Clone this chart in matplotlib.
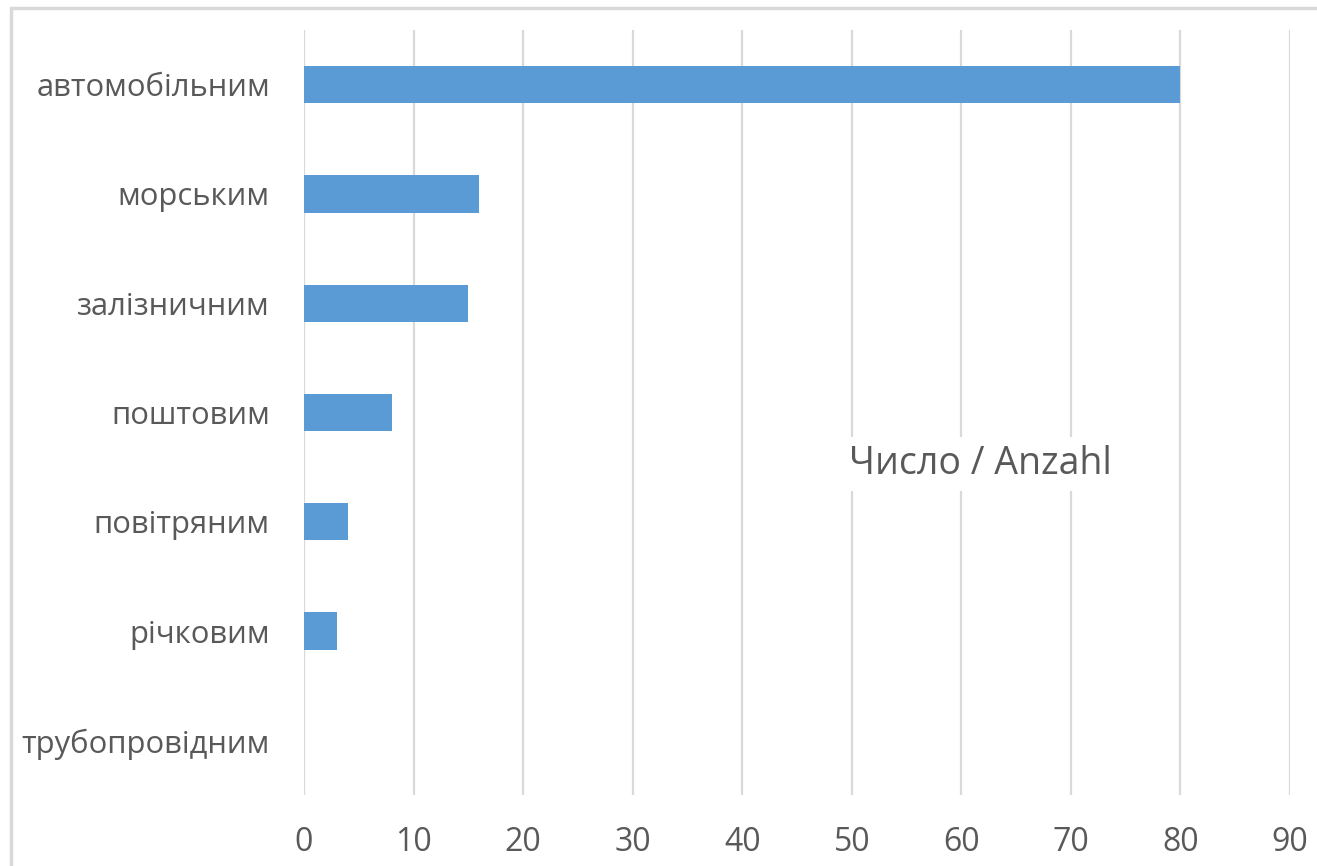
import matplotlib
matplotlib.use("Agg")
import matplotlib.pyplot as plt
from matplotlib.patches import Rectangle

categories = ["автомобільним", "морським", "залізничним", "поштовим",
              "повітряним", "річковим", "трубопровідним"]
values = [80, 16, 15, 8, 4, 3, 0]
xticks = [0, 10, 20, 30, 40, 50, 60, 70, 80, 90]
series_label = "Число / Anzahl"

plt.rcParams['font.family'] = ['Open Sans', 'DejaVu Sans']

fig = plt.figure(figsize=(13.17, 8.66), dpi=100)
ax = fig.add_axes([304/1317, 1 - 795/866, (1290 - 304)/1317, (795 - 30)/866])

pos = list(range(len(categories)))
ax.barh(pos, values, height=0.34, color="#5B9BD5", zorder=3)
ax.set_ylim(len(categories) - 0.5, -0.5)
ax.set_xlim(0, 90)
ax.set_yticks(pos)
ax.set_yticklabels(categories, fontsize=22.3, color="#595959")
ax.set_xticks(xticks)
ax.set_xticklabels([str(t) for t in xticks], fontsize=23, color="#595959")
ax.tick_params(axis="both", length=0)
ax.tick_params(axis="y", pad=24.5)
ax.tick_params(axis="x", pad=22)
ax.grid(axis="x", color="#d9d9d9", linewidth=1.6, zorder=0)
for s in ax.spines.values():
    s.set_visible(False)

ax.text(61.7, 3.47, series_label, fontsize=27, color="#595959",
        ha="center", va="center", zorder=5,
        bbox=dict(facecolor="white", edgecolor="none", pad=6))

fig.patches.append(Rectangle((11/1317, -0.2), 1.2, 1 - 8/866 + 0.2,
                             transform=fig.transFigure, fill=False,
                             edgecolor="#d9d9d9", linewidth=2.5))

fig.savefig("out.png", dpi=100)
